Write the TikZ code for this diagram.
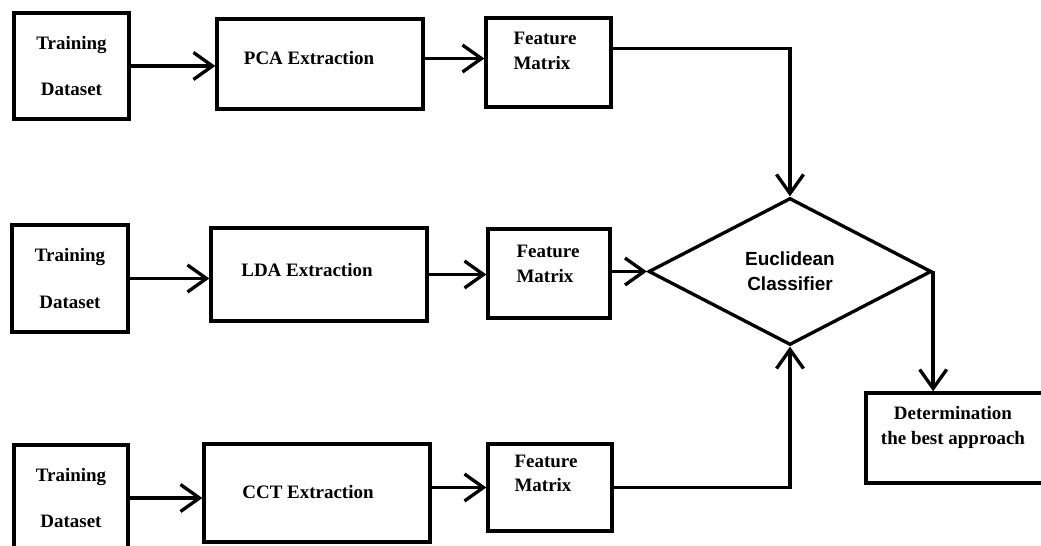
\documentclass[tikz,border=0pt]{standalone}
\usepackage{fontspec}
\setmainfont{Liberation Serif}
\setsansfont{Liberation Sans}
\usetikzlibrary{arrows.meta,shapes.geometric}

\tikzset{
  blk/.style={draw, line width=1.9pt, inner sep=0pt},
  dset/.style={blk, minimum width=2.3cm, minimum height=2.12cm, align=center,
    font=\bfseries\fontsize{10.8}{26.2}\selectfont},
  ext/.style={blk},
  boxtxt/.style={font=\bfseries\fontsize{10.8}{13.9}\selectfont, align=left, inner sep=0pt},
  classif/.style={blk, diamond, shape aspect=2, minimum width=5.66cm, minimum height=2.94cm,
    align=center, font=\sffamily\bfseries\fontsize{10.8}{14.2}\selectfont},
  arr/.style={line width=1.9pt, -{Straight Barb[length=0.38cm,width=0.54cm]}}
}

\begin{document}
\begin{tikzpicture}[x=0.02cm, y=-0.02cm]
\useasboundingbox (0,0) rectangle (1041,546);
\fill[white] (0,0) rectangle (1041,546);
\node[dset] (td1) at (71.5,66) {Training\\Dataset};
\node[dset, minimum width=2.32cm, minimum height=2.14cm] (td2) at (70,278.5) {Training\\Dataset};
\node[dset, minimum width=2.28cm] (td3) at (71,498) {Training\\Dataset};
\node[ext, minimum width=4.12cm, minimum height=1.8cm,
  label={[boxtxt, xshift=-0.22cm, yshift=0.12cm]center:PCA Extraction}] (pca) at (320,64) {};
\node[ext, minimum width=4.32cm, minimum height=1.86cm,
  label={[boxtxt, xshift=-0.24cm, yshift=0.09cm]center:LDA Extraction}] (lda) at (319,274.5) {};
\node[ext, minimum width=4.52cm, minimum height=1.96cm,
  label={[boxtxt, xshift=-0.18cm, yshift=0.02cm]center:CCT Extraction}] (cct) at (317,493) {};
\node[ext, minimum width=2.5cm, minimum height=1.78cm,
  label={[boxtxt, xshift=-0.07cm, yshift=0.23cm]center:Feature\\Matrix}] (fm1) at (548.5,62.5) {};
\node[ext, minimum width=2.44cm, minimum height=1.78cm,
  label={[boxtxt, xshift=-0.02cm, yshift=0.19cm]center:Feature\\Matrix}] (fm2) at (549,273.5) {};
\node[ext, minimum width=2.48cm, minimum height=1.74cm,
  label={[boxtxt, xshift=-0.08cm, yshift=0.28cm]center:Feature\\Matrix}] (fm3) at (550,487.5) {};
\node[classif] (dia) at (790,271.5) {Euclidean\\Classifier};
\node[ext, minimum width=3.58cm, minimum height=1.8cm,
  label={[boxtxt, align=center, xshift=-0.05cm, yshift=0.21cm]center:Determination\\the best approach}] (det) at (955.5,438) {};
\draw[arr] (td1.east) -- (td1.east -| pca.west);
\draw[arr] (td2.east) -- (td2.east -| lda.west);
\draw[arr] (td3.east) -- (td3.east -| cct.west);
\draw[arr] ([yshift=0.11cm]pca.east) -- ([yshift=0.11cm]pca.east -| fm1.west);
\draw[arr] (lda.east) -- (lda.east -| fm2.west);
\draw[arr] (cct.east |- fm3.west) -- (fm3.west);
\draw[arr] ([yshift=0.28cm]fm1.east) -| (dia.north);
\draw[arr] (fm2.east |- dia.west) -- (dia.west);
\draw[arr] (fm3.east) -| (dia.south);
\draw[arr] (dia.east) -- (dia.east |- det.north);
\end{tikzpicture}
\end{document}
